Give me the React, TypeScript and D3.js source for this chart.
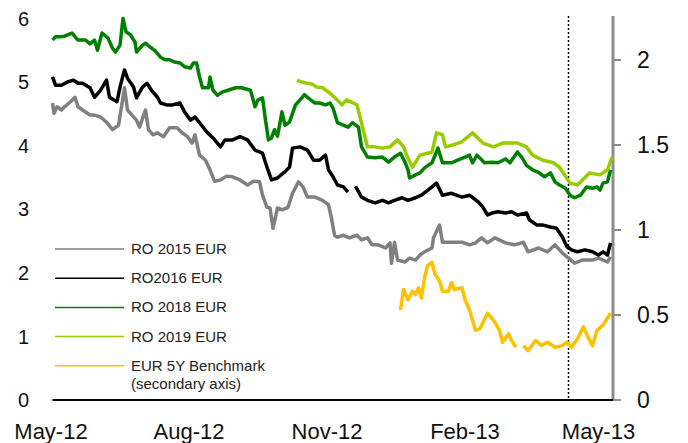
import React, { useEffect, useRef } from 'react';
import * as d3 from 'd3';

// Dimensiones
const W = 688;
const H = 443;
const plot = { left: 51, right: 613, top: 17, bottom: 400 };

// Fecha base: los puntos guardan días desde el 1 de mayo de 2012
const START = new Date(2012, 4, 1);
const END_DAY = 375;
const MARKER_DAY = 345; // línea punteada (abril 2013)

const xTicks = [new Date(2012, 4, 1), new Date(2012, 7, 1), new Date(2012, 10, 1), new Date(2013, 1, 1), new Date(2013, 4, 1)];
const leftTicks = [0, 1, 2, 3, 4, 5, 6];
const rightTicks = [0, 0.5, 1, 1.5, 2];

// [día, valor]
const ro2015 = [
  [1, 4.67], [2, 4.51], [4, 4.61], [7, 4.56], [9, 4.61], [13, 4.69], [16, 4.76], [18, 4.61], [21, 4.56], [26, 4.48],
  [29, 4.48], [33, 4.45], [37, 4.37], [41, 4.25], [45, 4.32], [47, 4.61], [49, 4.91], [51, 4.56], [54, 4.48], [57, 4.40],
  [59, 4.29], [63, 4.56], [65, 4.25], [68, 4.17], [71, 4.20], [75, 4.14], [79, 4.28], [84, 4.28], [87, 4.21], [91, 4.14],
  [94, 4.04], [96, 4.17], [99, 3.85], [103, 3.77], [106, 3.62], [109, 3.44], [113, 3.46], [117, 3.52], [121, 3.51], [126, 3.46],
  [131, 3.38], [135, 3.44], [139, 3.43], [141, 3.22], [144, 3.03], [146, 3.02], [148, 2.70], [151, 3.02], [154, 2.99], [158, 3.03],
  [161, 3.25], [165, 3.43], [168, 3.35], [171, 3.19], [176, 3.19], [181, 3.14], [185, 3.07], [187, 2.86], [189, 2.59], [191, 2.56],
  [195, 2.59], [199, 2.55], [204, 2.59], [207, 2.52], [211, 2.55], [214, 2.44], [218, 2.44], [223, 2.39], [226, 2.47], [227, 2.15],
  [229, 2.48], [231, 2.20], [236, 2.17], [239, 2.23], [243, 2.20], [246, 2.28], [249, 2.33], [254, 2.39], [255, 2.55], [259, 2.75],
  [261, 2.48], [267, 2.48], [274, 2.48], [279, 2.44], [283, 2.47], [287, 2.55], [291, 2.47], [296, 2.55], [303, 2.47], [309, 2.44],
  [315, 2.48], [318, 2.33], [325, 2.39], [331, 2.33], [336, 2.44], [341, 2.31], [345, 2.23], [349, 2.15], [354, 2.20], [361, 2.20],
  [365, 2.23], [371, 2.17], [373, 2.25],
];

const ro2016 = [
  [1, 5.08], [3, 4.95], [7, 4.95], [11, 5.00], [15, 5.03], [18, 4.98], [21, 4.98], [26, 4.91], [29, 4.76], [33, 4.87],
  [37, 5.03], [39, 4.76], [44, 4.69], [46, 4.92], [49, 5.19], [51, 5.06], [55, 4.92], [57, 4.75], [61, 4.92], [64, 4.98],
  [67, 4.87], [71, 4.76], [73, 4.67], [77, 4.64], [81, 4.64], [86, 4.67], [89, 4.53], [93, 4.40], [96, 4.45], [99, 4.36],
  [104, 4.21], [108, 4.12], [113, 3.98], [116, 4.09], [121, 4.09], [126, 4.14], [131, 4.09], [136, 3.93], [141, 3.88], [144, 3.66],
  [147, 3.46], [151, 3.49], [155, 3.57], [159, 3.66], [161, 3.96], [166, 3.98], [171, 3.93], [175, 3.77], [179, 3.77], [183, 3.85],
  [185, 3.62], [188, 3.51], [191, 3.38], [195, 3.35], [198, 3.27], [200, null], [203, 3.36], [207, 3.19], [211, 3.14], [216, 3.10],
  [221, 3.14], [225, 3.10], [229, 3.14], [234, 3.18], [238, 3.14], [243, 3.18], [247, 3.22], [254, 3.35], [257, 3.41], [261, 3.22],
  [267, 3.25], [274, 3.19], [279, 3.22], [285, 3.11], [288, 3.03], [291, 2.91], [294, 2.94], [298, 2.96], [303, 2.94], [307, 2.96],
  [311, 2.91], [317, 2.94], [319, 2.83], [324, 2.75], [328, 2.75], [333, 2.72], [337, 2.70], [341, 2.56], [344, 2.41], [347, 2.36],
  [351, 2.33], [356, 2.36], [361, 2.33], [365, 2.28], [368, 2.33], [371, 2.28], [373, 2.47],
];

const ro2018 = [
  [1, 5.66], [3, 5.71], [6, 5.71], [9, 5.72], [14, 5.77], [18, 5.66], [23, 5.66], [26, 5.60], [29, 5.66], [31, 5.50],
  [34, 5.77], [38, 5.69], [41, 5.53], [43, 5.47], [46, 5.58], [48, 6.00], [50, 5.79], [53, 5.74], [56, 5.63], [57, 5.47],
  [61, 5.58], [63, 5.61], [66, 5.55], [69, 5.50], [73, 5.39], [76, 5.35], [79, 5.35], [83, 5.31], [86, 5.30], [89, 5.24],
  [93, 5.22], [95, 5.30], [97, 5.30], [99, 5.08], [101, 4.91], [105, 4.91], [106, 5.08], [108, 4.87], [111, 4.79], [114, 4.84],
  [118, 4.87], [123, 4.91], [127, 4.91], [133, 4.87], [136, 4.61], [138, 4.72], [141, 4.75], [143, 4.40], [145, 4.09], [147, 4.12],
  [149, 4.25], [151, 4.15], [154, 4.53], [156, 4.32], [159, 4.37], [163, 4.64], [166, 4.72], [169, 4.80], [173, 4.72], [176, 4.67],
  [179, 4.67], [183, 4.64], [186, 4.67], [188, 4.59], [191, 4.36], [198, 4.29], [201, 4.36], [205, 4.29], [207, 3.98], [211, 3.82],
  [216, 3.81], [221, 3.82], [225, 3.74], [229, 3.82], [233, 3.88], [236, 3.74], [238, 3.62], [239, 3.49], [243, 3.54], [246, 3.57],
  [249, 3.65], [254, 3.73], [258, 3.96], [261, 3.73], [267, 3.73], [271, 3.77], [276, 3.82], [279, 3.85], [281, 3.73], [284, 3.85],
  [289, 3.73], [294, 3.74], [298, 3.73], [303, 3.79], [306, 3.73], [311, 3.90], [314, 3.81], [317, 3.69], [321, 3.62], [325, 3.58],
  [329, 3.51], [333, 3.57], [336, 3.43], [339, 3.38], [343, 3.33], [346, 3.22], [349, 3.18], [353, 3.22], [357, 3.35], [361, 3.33],
  [364, 3.35], [366, 3.30], [368, 3.41], [371, 3.43], [373, 3.62],
];

const ro2019 = [
  [164, 5.03], [167, 5.00], [171, 4.98], [174, 4.97], [177, 4.92], [181, 4.91], [185, 4.84], [189, 4.76], [194, 4.64], [197, 4.72],
  [204, 4.64], [207, 4.36], [211, 3.98], [216, 3.98], [221, 3.96], [226, 3.98], [231, 4.09], [235, 3.98], [238, 3.80], [241, 3.66],
  [246, 3.85], [251, 3.88], [254, 3.90], [257, 4.20], [261, 4.17], [263, 3.98], [268, 4.01], [274, 4.06], [278, 4.14], [281, 4.20],
  [288, 4.04], [295, 3.98], [301, 4.04], [311, 4.04], [317, 3.98], [321, 3.85], [328, 3.77], [335, 3.73], [339, 3.66], [346, 3.41],
  [351, 3.38], [359, 3.57], [366, 3.54], [371, 3.62], [374, 3.82],
];

// Eje secundario
const eur5y = [
  [233, 0.53], [235, 0.65], [238, 0.59], [241, 0.64], [243, 0.62], [245, 0.66], [247, 0.60], [249, 0.72], [251, 0.79], [254, 0.81],
  [256, 0.74], [259, 0.70], [261, 0.64], [265, 0.64], [267, 0.69], [269, 0.65], [274, 0.66], [276, 0.59], [279, 0.53], [283, 0.41],
  [286, 0.42], [291, 0.51], [295, 0.47], [299, 0.41], [301, 0.34], [305, 0.39], [307, 0.35], [310, 0.31], [312, null], [315, 0.32],
  [318, 0.29], [323, 0.35], [327, 0.32], [331, 0.34], [336, 0.31], [341, 0.32], [344, 0.34], [347, 0.31], [351, 0.36], [355, 0.43],
  [358, 0.37], [361, 0.32], [364, 0.41], [368, 0.44], [373, 0.51],
];

const series = [
  { name: 'RO 2015 EUR', data: ro2015, color: '#808080', right: false },
  { name: 'RO2016 EUR', data: ro2016, color: '#000000', right: false },
  { name: 'RO 2018 EUR', data: ro2018, color: '#008000', right: false },
  { name: 'RO 2019 EUR', data: ro2019, color: '#99cc00', right: false },
  { name: 'EUR 5Y Benchmark', data: eur5y, color: '#ffc000', right: true },
];

const FONT = "'Liberation Sans', Arial, sans-serif";

const App = () => {
  const svgRef = useRef(null);

  useEffect(() => {
    const svg = d3.select(svgRef.current);
    svg.selectAll('*').remove();

    const day = (d) => d3.timeDay.offset(START, d);

    const x = d3.scaleTime().domain([START, day(END_DAY)]).range([plot.left, plot.left + END_DAY * 1.5]);
    const yLeft = d3.scaleLinear().domain([0, 6]).range([plot.bottom, 18.4]);
    const yRight = d3.scaleLinear().domain([0, 2.25]).range([plot.bottom, 17.5]);

    // Etiquetas del eje izquierdo (sin línea)
    svg.append('g')
      .selectAll('text')
      .data(leftTicks)
      .join('text')
      .attr('x', 29)
      .attr('y', (d) => yLeft(d))
      .attr('dy', '0.36em')
      .attr('text-anchor', 'end')
      .style('font-family', FONT)
      .style('font-size', '20px')
      .style('fill', '#111')
      .text((d) => d);

    // Eje derecho
    const axisX = x(day(END_DAY)) - 0.5;
    svg.append('line')
      .attr('x1', axisX).attr('x2', axisX)
      .attr('y1', 16).attr('y2', plot.bottom)
      .attr('stroke', '#8c8c8c').attr('stroke-width', 3);
    svg.append('g')
      .selectAll('line')
      .data(rightTicks)
      .join('line')
      .attr('x1', axisX).attr('x2', axisX + 8)
      .attr('y1', (d) => yRight(d)).attr('y2', (d) => yRight(d))
      .attr('stroke', '#8c8c8c').attr('stroke-width', 2);
    svg.append('g')
      .selectAll('text')
      .data(rightTicks)
      .join('text')
      .attr('x', 637)
      .attr('y', (d) => yRight(d))
      .attr('dy', '0.36em')
      .style('font-family', FONT)
      .style('font-size', '23px')
      .style('fill', '#111')
      .text((d) => d);

    // Eje X
    svg.append('line')
      .attr('x1', x(day(1))).attr('x2', axisX)
      .attr('y1', plot.bottom).attr('y2', plot.bottom)
      .attr('stroke', '#000').attr('stroke-width', 2);
    svg.append('g')
      .selectAll('text')
      .data(xTicks)
      .join('text')
      .attr('x', (d) => x(d))
      .attr('y', 439)
      .attr('text-anchor', 'middle')
      .style('font-family', FONT)
      .style('font-size', '22px')
      .style('fill', '#111')
      .text((d) => d3.timeFormat('%b-%y')(d));

    // Línea punteada vertical
    svg.append('line')
      .attr('x1', x(day(MARKER_DAY))).attr('x2', x(day(MARKER_DAY)))
      .attr('y1', 16).attr('y2', plot.bottom)
      .attr('stroke', '#000').attr('stroke-width', 1.5)
      .attr('stroke-dasharray', '2,2');

    // Series
    series.forEach((s) => {
      const y = s.right ? yRight : yLeft;
      const line = d3.line()
        .defined((d) => d[1] !== null)
        .x((d) => x(day(d[0])))
        .y((d) => y(d[1]));
      svg.append('path')
        .datum(s.data)
        .attr('d', line)
        .attr('fill', 'none')
        .attr('stroke', s.color)
        .attr('stroke-width', 3.5)
        .attr('stroke-linejoin', 'round');
    });

    // Leyenda
    const legend = svg.append('g');
    series.forEach((s, i) => {
      const ly = 249 + i * 29.2;
      legend.append('line')
        .attr('x1', 55).attr('x2', 124)
        .attr('y1', ly).attr('y2', ly)
        .attr('stroke', s.color).attr('stroke-width', 1.5);
      legend.append('text')
        .attr('x', 131).attr('y', ly + 5)
        .style('font-family', FONT)
        .style('font-size', '15px')
        .style('fill', '#222')
        .text(s.name);
      if (s.right) {
        legend.append('text')
          .attr('x', 131).attr('y', ly + 23)
          .style('font-family', FONT)
          .style('font-size', '15px')
          .style('fill', '#222')
          .text('(secondary axis)');
      }
    });
  }, []);

  return (
    <svg
      ref={svgRef}
      width={W}
      height={H}
      style={{ position: 'absolute', left: 0, top: 0, background: '#fff' }}
    ></svg>
  );
};

export default App;
